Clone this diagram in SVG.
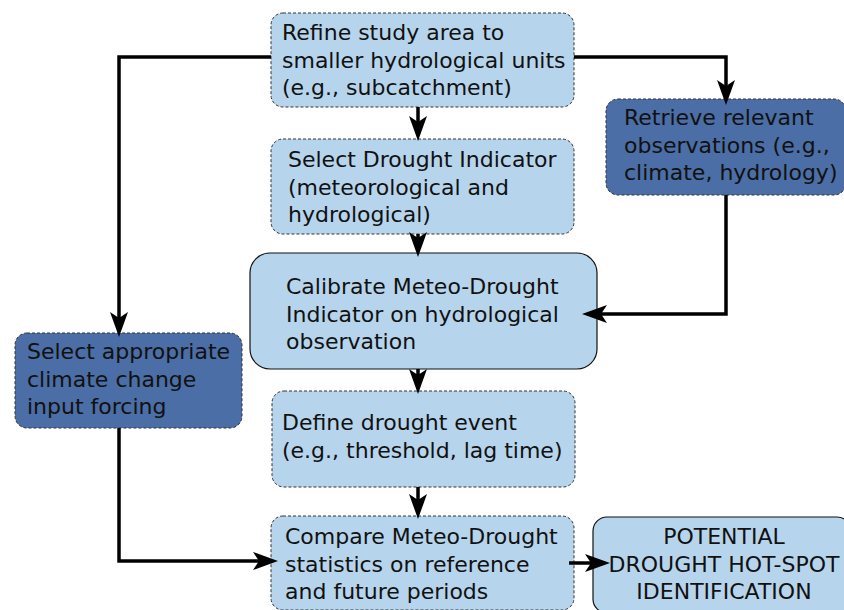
<svg xmlns="http://www.w3.org/2000/svg" width="844" height="610" viewBox="0 0 844 610">
<defs>
<style>
.light{fill:#b6d5ec;}
.dark{fill:#4a6ea5;}
.dash{stroke:#333;stroke-width:1;stroke-dasharray:3 2;}
.solid{stroke:#111;stroke-width:1.2;}
text{font-family:"DejaVu Sans",Verdana,sans-serif;font-size:22px;fill:#111;}
.c{text-anchor:middle;}
.edge{fill:none;stroke:#000;stroke-width:3.5;}
</style>
<marker id="ah" markerUnits="userSpaceOnUse" markerWidth="28" markerHeight="22" viewBox="0 -11 28 22" refX="8" refY="0" orient="auto">
<path d="M0,-9 L25,0 L0,9 L6,0 Z" fill="#000"/>
</marker>
</defs>
<rect width="844" height="610" fill="#fff"/>
<g id="refine">
<rect class="light dash" x="271" y="13" width="303" height="94" rx="12"/>
<text x="282" y="40">Refine study area to</text>
<text x="282" y="67.5">smaller hydrological units</text>
<text x="282" y="95">(e.g., subcatchment)</text>
</g>
<g id="select-indicator">
<rect class="light dash" x="271" y="139" width="303" height="95" rx="12"/>
<text x="288" y="167">Select Drought Indicator</text>
<text x="288" y="194.5">(meteorological and</text>
<text x="288" y="222">hydrological)</text>
</g>
<g id="calibrate">
<rect class="light solid" x="250" y="253" width="347" height="116" rx="20"/>
<text x="286" y="294">Calibrate Meteo-Drought</text>
<text x="286" y="321.5">Indicator on hydrological</text>
<text x="286" y="349">observation</text>
</g>
<g id="define">
<rect class="light dash" x="272" y="391" width="303" height="96" rx="12"/>
<text x="282" y="430">Define drought event</text>
<text x="282" y="457.5">(e.g., threshold, lag time)</text>
</g>
<g id="compare">
<rect class="light dash" x="271" y="516" width="303" height="94" rx="12"/>
<text x="285" y="544">Compare Meteo-Drought</text>
<text x="285" y="571.5">statistics on reference</text>
<text x="285" y="599">and future periods</text>
</g>
<g id="potential">
<rect class="light solid" x="593" y="517" width="258" height="96" rx="14"/>
<text class="c" x="724" y="544">POTENTIAL</text>
<text class="c" x="724" y="571.5">DROUGHT HOT-SPOT</text>
<text class="c" x="724" y="599">IDENTIFICATION</text>
</g>
<g id="retrieve">
<rect class="dark dash" x="606" y="99" width="240" height="96" rx="12"/>
<text x="624" y="125">Retrieve relevant</text>
<text x="624" y="152.5">observations (e.g.,</text>
<text x="624" y="180">climate, hydrology)</text>
</g>
<g id="select-forcing">
<rect class="dark dash" x="15" y="333" width="227" height="95" rx="12"/>
<text x="27" y="359">Select appropriate</text>
<text x="27" y="386.5">climate change</text>
<text x="27" y="414">input forcing</text>
</g>
<g id="connectors">
<path class="edge" d="M271,57 H119 V320" marker-end="url(#ah)"/>
<path class="edge" d="M574,57 H726 V88" marker-end="url(#ah)"/>
<path class="edge" d="M418,107 V124" marker-end="url(#ah)"/>
<path class="edge" d="M418,234 V240" marker-end="url(#ah)"/>
<path class="edge" d="M726,195 V314 H599" marker-end="url(#ah)"/>
<path class="edge" d="M418,369 V377" marker-end="url(#ah)"/>
<path class="edge" d="M418,487 V502" marker-end="url(#ah)"/>
<path class="edge" d="M119,428 V561 H261" marker-end="url(#ah)"/>
<path class="edge" d="M569,563 H593" marker-end="url(#ah)"/>
</g>
</svg>
